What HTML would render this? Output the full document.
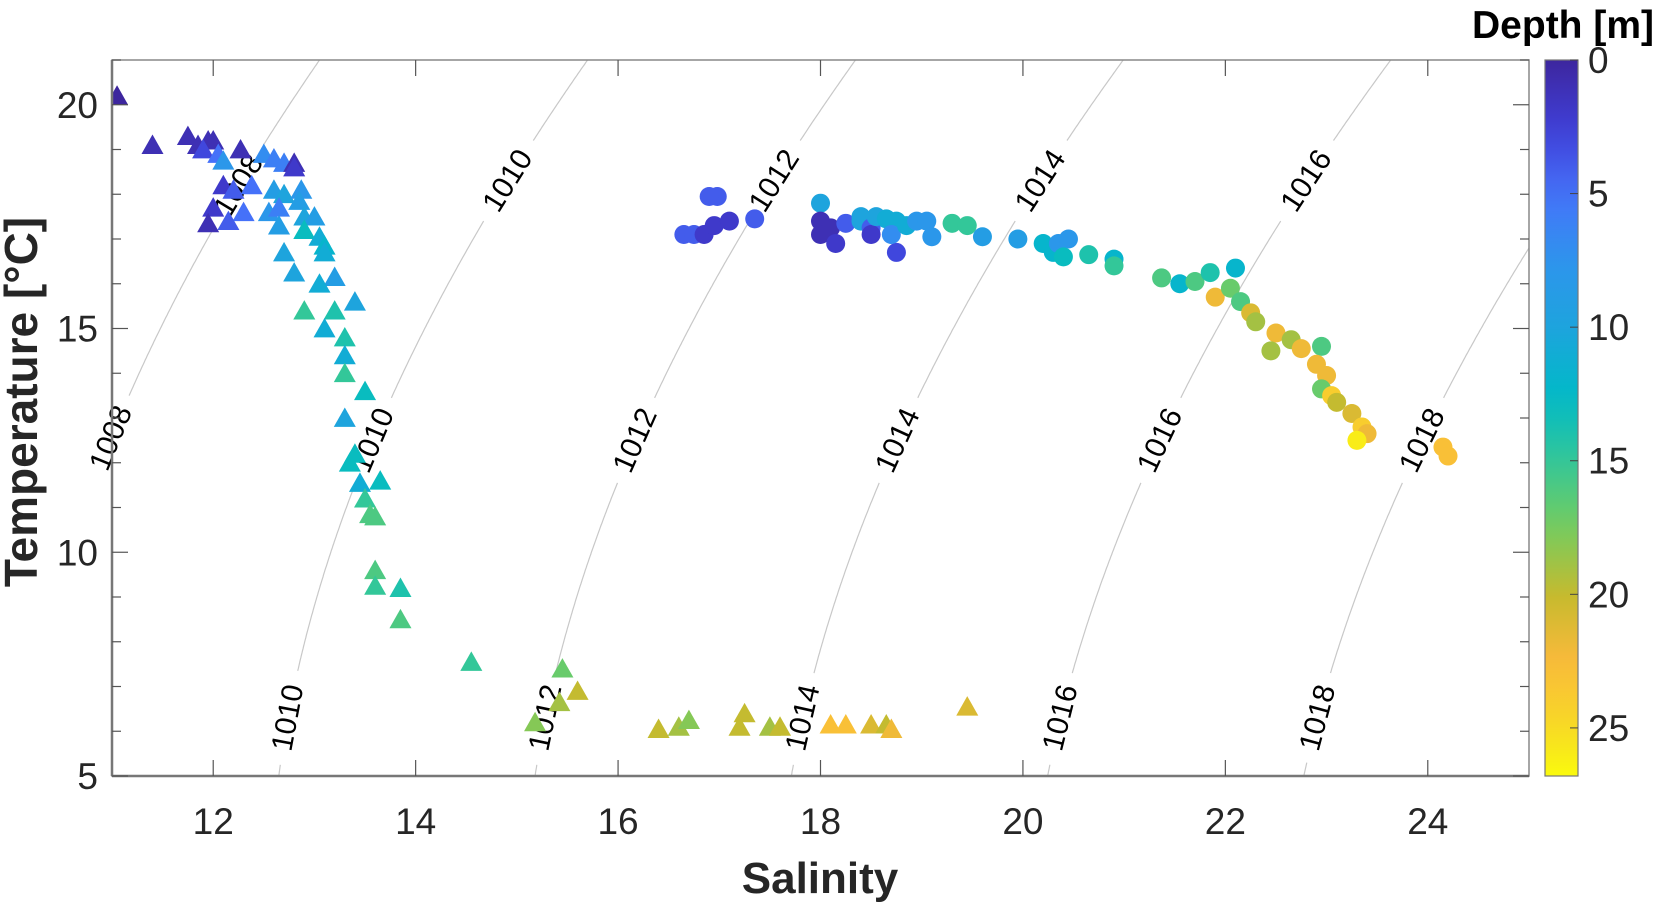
<!DOCTYPE html>
<html><head><meta charset="utf-8"><style>
body{margin:0;background:#fff;}
svg{display:block;font-family:"Liberation Sans",Arial,sans-serif;}
</style></head><body>
<svg id="chart" width="1656" height="903" viewBox="0 0 1656 903">
<defs>
<clipPath id="pc"><rect x="112" y="60" width="1417" height="716"/></clipPath>
<linearGradient id="cbg" x1="0" y1="0" x2="0" y2="1"></linearGradient>
</defs>
<rect x="112" y="60" width="1417" height="716" fill="#fff"/>
<g id="contours" clip-path="url(#pc)"></g>
<g id="clabels"></g>
<g id="marks" clip-path="url(#pc)"></g>
<g id="axes"></g>
<text x="820" y="893" text-anchor="middle" font-size="44" font-weight="bold" fill="#262626">Salinity</text>
<text transform="translate(37,402) rotate(-90)" text-anchor="middle" font-size="46" font-weight="bold" fill="#262626">Temperature [°C]</text>
<text x="1654" y="38" text-anchor="end" font-size="39" font-weight="bold" fill="#000">Depth [m]</text>
<g id="cbar"></g>
</svg>
<script>
const xTicks=[12,14,16,18,20,22,24];
const yTicks=[5,10,15,20];
const cTicks=[0,5,10,15,20,25];
const levels=[1008,1010,1012,1014,1016,1018];
const labelLevels=[1008,1008,1010,1010,1010,1012,1012,1012,1014,1014,1014,1016,1016,1016,1018,1018];
const labelTemps=[18.2,12.55,18.3,12.5,6.3,18.3,12.5,6.3,18.3,12.5,6.3,18.3,12.5,6.3,12.5,6.3];
// triangles profile
const triS=[11.05,11.4,11.75,11.85,11.95,12.0,11.9,12.05,12.1,12.27,12.5,12.6,12.7,12.8,12.8,12.1,12.2,12.38,12.6,12.7,12.87,12.0,12.3,12.55,11.95,12.15,12.65,12.65,12.85,12.9,13.0,12.9,13.05,13.1,12.7,13.1,12.8,13.2,13.05,12.9,13.2,13.4,13.1,13.3,13.3,13.3,13.5,13.3,13.4,13.35,13.45,13.5,13.55,13.65,13.6,13.6,13.6,13.85,13.85,14.55,15.18,15.45,15.6,15.42,16.4,16.6,16.7,17.2,17.25,17.5,17.6,18.1,18.25,18.5,18.65,18.7,19.45];
const triT=[20.2,19.1,19.3,19.1,19.2,19.2,19.0,18.9,18.75,19.0,18.9,18.8,18.7,18.7,18.6,18.2,18.1,18.2,18.1,18.0,18.1,17.7,17.6,17.6,17.35,17.4,17.7,17.3,17.85,17.5,17.5,17.2,17.05,16.85,16.7,16.7,16.25,16.15,16.0,15.4,15.4,15.6,15.0,14.8,14.4,14.0,13.6,13.0,12.2,12.0,11.55,11.2,10.85,11.6,10.8,9.6,9.25,9.2,8.5,7.55,6.2,7.4,6.9,6.65,6.05,6.1,6.25,6.1,6.4,6.1,6.1,6.15,6.15,6.15,6.15,6.05,6.55];
const triD=[0,1,1,1,1,1,3,5,8,1,7,6,6,1,2,2,4,5,9,10,8,2,5,8,1,4,6,9,9,10,9,13,11,12,10,11,10,9,11,15,14,10,11,14,11,15,13,10,13,13,11,15,16,13,16,16,15,14,16,15,18,17,20,19,20,19,18,20,20,19,20,23,23,21,20,22,21];
// circles profile
const cirS=[16.98,16.9,16.65,16.75,16.85,16.95,17.1,17.35,18.0,18.0,18.0,18.1,18.15,18.25,18.4,18.4,18.5,18.5,18.55,18.65,18.75,18.75,18.7,18.85,18.95,19.05,19.1,19.3,19.45,19.6,19.95,20.2,20.3,20.35,20.45,20.4,20.65,20.9,20.9,21.37,21.55,21.7,21.85,22.1,21.9,22.05,22.15,22.25,22.3,22.5,22.65,22.75,22.45,22.95,22.9,23.0,22.95,23.05,23.1,23.25,23.35,23.4,23.3,24.15,24.2];
const cirT=[17.95,17.95,17.1,17.1,17.1,17.3,17.4,17.45,17.8,17.4,17.1,17.25,16.9,17.35,17.4,17.5,17.25,17.1,17.5,17.45,17.4,16.7,17.1,17.3,17.4,17.4,17.05,17.35,17.3,17.05,17.0,16.9,16.7,16.9,17.0,16.6,16.65,16.55,16.4,16.13,16.0,16.05,16.25,16.35,15.7,15.9,15.6,15.35,15.15,14.9,14.75,14.55,14.5,14.6,14.2,13.95,13.65,13.5,13.35,13.1,12.8,12.65,12.5,12.35,12.15];
const cirD=[4,4,4,4,2,2,2,4,10,1,1,1,2,4,10,10,4,2,10,11,11,3,7,11,8,8,8,15,15,9,9,12,12,8,8,13,14,12,15,16,12,16,14,12,22,17,16,21,19,22,19,22,19,16,22,22,17,24,20,21,24,22,26,23,23];

const L=112,R=1529,Tp=60,B=776,CMAX=26.8;
const xs=s=>L+(s-11)/(25-11)*(R-L);
const ys=t=>B-(t-5)/(21-5)*(B-Tp);
const NS='http://www.w3.org/2000/svg';
function mk(tag,attrs,parent){const e=document.createElementNS(NS,tag);for(const k in attrs)e.setAttribute(k,attrs[k]);parent.appendChild(e);return e;}
const par=[[0,.24,.15,.62],[.1,.25,.25,.85],[.19,.27,.45,.98],[.28,.18,.58,.93],[.37,.12,.64,.87],[.47,.0,.73,.78],[.56,.2,.78,.6],[.65,.45,.8,.38],[.75,.78,.73,.18],[.84,.98,.73,.23],[.93,.97,.85,.15],[1,.98,.98,.05]];
function cmap(v){v=Math.max(0,Math.min(1,v));for(let i=1;i<par.length;i++){if(v<=par[i][0]){const a=par[i-1],b=par[i],f=(v-a[0])/(b[0]-a[0]);const c=[1,2,3].map(j=>Math.round(255*(a[j]+f*(b[j]-a[j]))));return `rgb(${c})`;}}}
function rho(S,T){const rw=999.842594+6.793952e-2*T-9.095290e-3*T*T+1.001685e-4*T**3-1.120083e-6*T**4+6.536332e-9*T**5;
const A=8.24493e-1-4.0899e-3*T+7.6438e-5*T*T-8.2467e-7*T**3+5.3875e-9*T**4;const Bc=-5.72466e-3+1.0227e-4*T-1.6546e-6*T*T;
return rw+A*S+Bc*Math.pow(S,1.5)+4.8314e-4*S*S;}
function solveS(lev,T){let a=0,b=45;for(let i=0;i<50;i++){const m=(a+b)/2;if(rho(m,T)<lev)a=m;else b=m;}return (a+b)/2-0.011*(T-5);}

const lab=labelLevels.map((lv,i)=>{const t=labelTemps[i];const x=xs(solveS(lv,t)),y=ys(t);
const x2=xs(solveS(lv,t+0.2)),y2=ys(t+0.2);return {lv,x,y,ang:Math.atan2(y2-y,x2-x)*180/Math.PI};});
const cg=document.getElementById('contours');
levels.forEach(lv=>{let d='',pen=false;
for(let t=4.8;t<=21.2;t+=0.05){const x=xs(solveS(lv,t)),y=ys(t);
const gap=lab.some(o=>o.lv===lv&&Math.hypot(o.x-x,o.y-y)<46);
if(gap){pen=false;continue;}d+=(pen?'L':'M')+x.toFixed(1)+' '+y.toFixed(1);pen=true;}
const p=mk('path',{d,fill:'none',stroke:'#c8c8c8','stroke-width':1.2},cg);

});
const lg=document.getElementById('clabels');
lab.forEach(o=>{const t=mk('text',{x:0,y:0,transform:`translate(${o.x.toFixed(1)},${o.y.toFixed(1)}) rotate(${o.ang.toFixed(1)})`,'text-anchor':'middle','dominant-baseline':'central','font-size':30,fill:'#000'},lg);
t.textContent=o.lv;

});

const mg=document.getElementById('marks');
triS.forEach((s,i)=>{const x=xs(s),y=ys(triT[i]),h=10.5;
const p=mk('polygon',{points:`${x},${y-h} ${x-h*1.05},${y+h*0.85} ${x+h*1.05},${y+h*0.85}`,fill:cmap(triD[i]/CMAX)},mg);

});
cirS.forEach((s,i)=>{const c=mk('circle',{cx:xs(s),cy:ys(cirT[i]),r:9.5,fill:cmap(cirD[i]/CMAX)},mg);

});

const ax=document.getElementById('axes');
mk('rect',{x:L,y:Tp,width:R-L,height:B-Tp,fill:'none',stroke:'#888','stroke-width':1.5},ax);
mk('line',{x1:L,y1:B,x2:R,y2:B,stroke:'#777','stroke-width':2.5},ax);
mk('line',{x1:L,y1:Tp,x2:L,y2:B,stroke:'#777','stroke-width':2.5},ax);
xTicks.forEach(v=>{const x=xs(v);
mk('line',{x1:x,y1:B,x2:x,y2:B-16,stroke:'#555','stroke-width':1.2},ax);
mk('line',{x1:x,y1:Tp,x2:x,y2:Tp+16,stroke:'#555','stroke-width':1.2},ax);
const t=mk('text',{x,y:834,'text-anchor':'middle','font-size':37,fill:'#262626'},ax);t.textContent=v;

});
for(let v=5;v<=21;v++){const y=ys(v),len=(v%5===0)?16:9;
mk('line',{x1:L,y1:y,x2:L+len,y2:y,stroke:'#555','stroke-width':1.2},ax);
mk('line',{x1:R,y1:y,x2:R-len,y2:y,stroke:'#555','stroke-width':1.2},ax);}
yTicks.forEach(v=>{const t=mk('text',{x:98,y:ys(v)+13,'text-anchor':'end','font-size':37,fill:'#262626'},ax);t.textContent=v;

});

const gr=document.getElementById('cbg');
for(let i=0;i<=24;i++){mk('stop',{offset:i/24,'stop-color':cmap(i/24)},gr);}
const cb=document.getElementById('cbar');
mk('rect',{x:1545,y:Tp,width:33,height:B-Tp,fill:'url(#cbg)',stroke:'#777','stroke-width':1.2},cb);
cTicks.forEach(v=>{const y=Tp+v/CMAX*(B-Tp);
mk('line',{x1:1570,y1:y,x2:1578,y2:y,stroke:'#444','stroke-width':1},cb);
const t=mk('text',{x:1588,y:y+13,'font-size':37,fill:'#262626'},cb);t.textContent=v;

});
</script>
</body></html>
